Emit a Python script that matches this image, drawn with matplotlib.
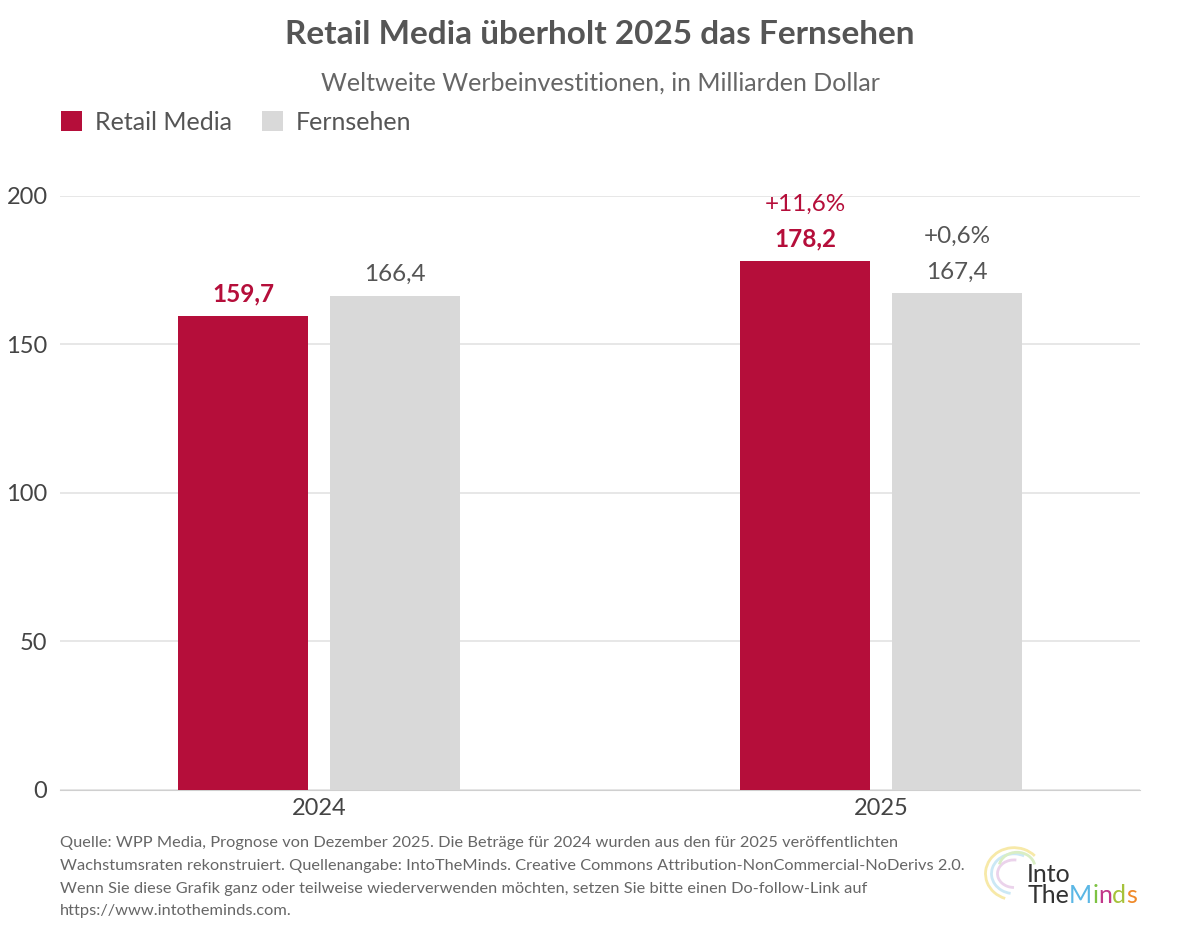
import matplotlib.pyplot as plt
from matplotlib.patches import Arc
import numpy as np

# data
years = ["2024", "2025"]
retail_media = [159.7, 178.2]
fernsehen = [166.4, 167.4]
retail_growth = ["", "+11,6%"]
tv_growth = ["", "+0,6%"]

RED = "#B50E3A"
GREY = "#D9D9D9"
TEXT = "#555555"

plt.rcParams["font.family"] = ["Lato", "DejaVu Sans"]


def fmt(v):
    return f"{v:.1f}".replace(".", ",")


fig = plt.figure(figsize=(12, 9.42), dpi=100)
ax = fig.add_axes([0.05, 0.1614, 0.90, 0.6306])

x = np.arange(len(years))
w = 0.231
off = 0.135
ax.bar(x - off, retail_media, w, color=RED, label="Retail Media", zorder=3)
ax.bar(x + off, fernsehen, w, color=GREY, label="Fernsehen", zorder=3)

for i in range(len(years)):
    ax.text(x[i] - off, retail_media[i] + 3.5, fmt(retail_media[i]), ha="center", va="bottom",
            color=RED, fontsize=17.5, fontweight="bold", clip_on=False)
    ax.text(x[i] + off, fernsehen[i] + 3.5, fmt(fernsehen[i]), ha="center", va="bottom",
            color=TEXT, fontsize=17.5, clip_on=False)
    if retail_growth[i]:
        ax.text(x[i] - off, retail_media[i] + 15.5, retail_growth[i], ha="center", va="bottom",
                color=RED, fontsize=17.5, clip_on=False)
    if tv_growth[i]:
        ax.text(x[i] + off, fernsehen[i] + 15.5, tv_growth[i], ha="center", va="bottom",
                color=TEXT, fontsize=17.5, clip_on=False)

ax.set_xlim(-0.461, 1.461)
ax.set_ylim(0, 200)
ax.set_yticks([0, 50, 100, 150, 200])
ax.set_xticks(x)
ax.set_xticklabels(years)
ax.tick_params(axis="both", length=0, labelsize=17, labelcolor="#444444")
ax.tick_params(axis="y", pad=9)
ax.tick_params(axis="x", pad=6)
ax.yaxis.grid(True, color="#E3E3E3", linewidth=1.2, zorder=0)
for s in ["top", "right", "left"]:
    ax.spines[s].set_visible(False)
ax.spines["bottom"].set_color("#CFCFCF")

fig.text(0.5, 0.963, "Retail Media überholt 2025 das Fernsehen", ha="center", va="center",
         fontsize=24, fontweight="bold", color=TEXT)
fig.text(0.5, 0.912, "Weltweite Werbeinvestitionen, in Milliarden Dollar", ha="center", va="center",
         fontsize=18, color="#666666")

fig.legend(loc="center left", bbox_to_anchor=(0.032, 0.870), ncol=2, frameon=False,
           fontsize=18, handlelength=0.85, handleheight=0.85, handletextpad=0.5,
           columnspacing=1.2, labelcolor=TEXT)

footer = ("Quelle: WPP Media, Prognose von Dezember 2025. Die Beträge für 2024 wurden aus den für 2025 veröffentlichten\n"
          "Wachstumsraten rekonstruiert. Quellenangabe: IntoTheMinds. Creative Commons Attribution-NonCommercial-NoDerivs 2.0.\n"
          "Wenn Sie diese Grafik ganz oder teilweise wiederverwenden möchten, setzen Sie bitte einen Do-follow-Link auf\n"
          "https://www.intotheminds.com.")
fig.text(0.05, 0.112, footer, fontsize=11.8, color="#666666",
         va="top", ha="left", linespacing=1.78)

# logo: faint brain outline plus word mark
lax = fig.add_axes([0.815, 0.04, 0.05, 0.065])
lax.set_xlim(0, 1)
lax.set_ylim(0, 1)
lax.axis("off")
for (cx, cy, ww, hh, t1, t2, col) in [(0.6, 0.5, 0.95, 0.85, 40, 250, "#F7E9A8"),
                                        (0.6, 0.5, 0.75, 0.65, 60, 260, "#CBE8F5"),
                                        (0.6, 0.5, 0.55, 0.45, 80, 270, "#EBD3EB"),
                                        (0.65, 0.6, 0.6, 0.5, 10, 170, "#D9EEC4")]:
    lax.add_patch(Arc((cx, cy), ww, hh, theta1=t1, theta2=t2, color=col, lw=2))

fig.text(0.856, 0.072, "Into", fontsize=18, color="#333333", ha="left", va="center")
logo = [("The", "#333333"), ("M", "#5BB7E5"), ("i", "#7DC242"), ("n", "#C2378A"),
        ("d", "#A6C23A"), ("s", "#F08A2A")]
px = 0.856
for part, col in logo:
    t = fig.text(px, 0.049, part, fontsize=18, color=col, ha="left", va="center")
    fig.canvas.draw()
    bb = t.get_window_extent()
    px += bb.width / fig.bbox.width

fig.savefig("out.png", dpi=100)
